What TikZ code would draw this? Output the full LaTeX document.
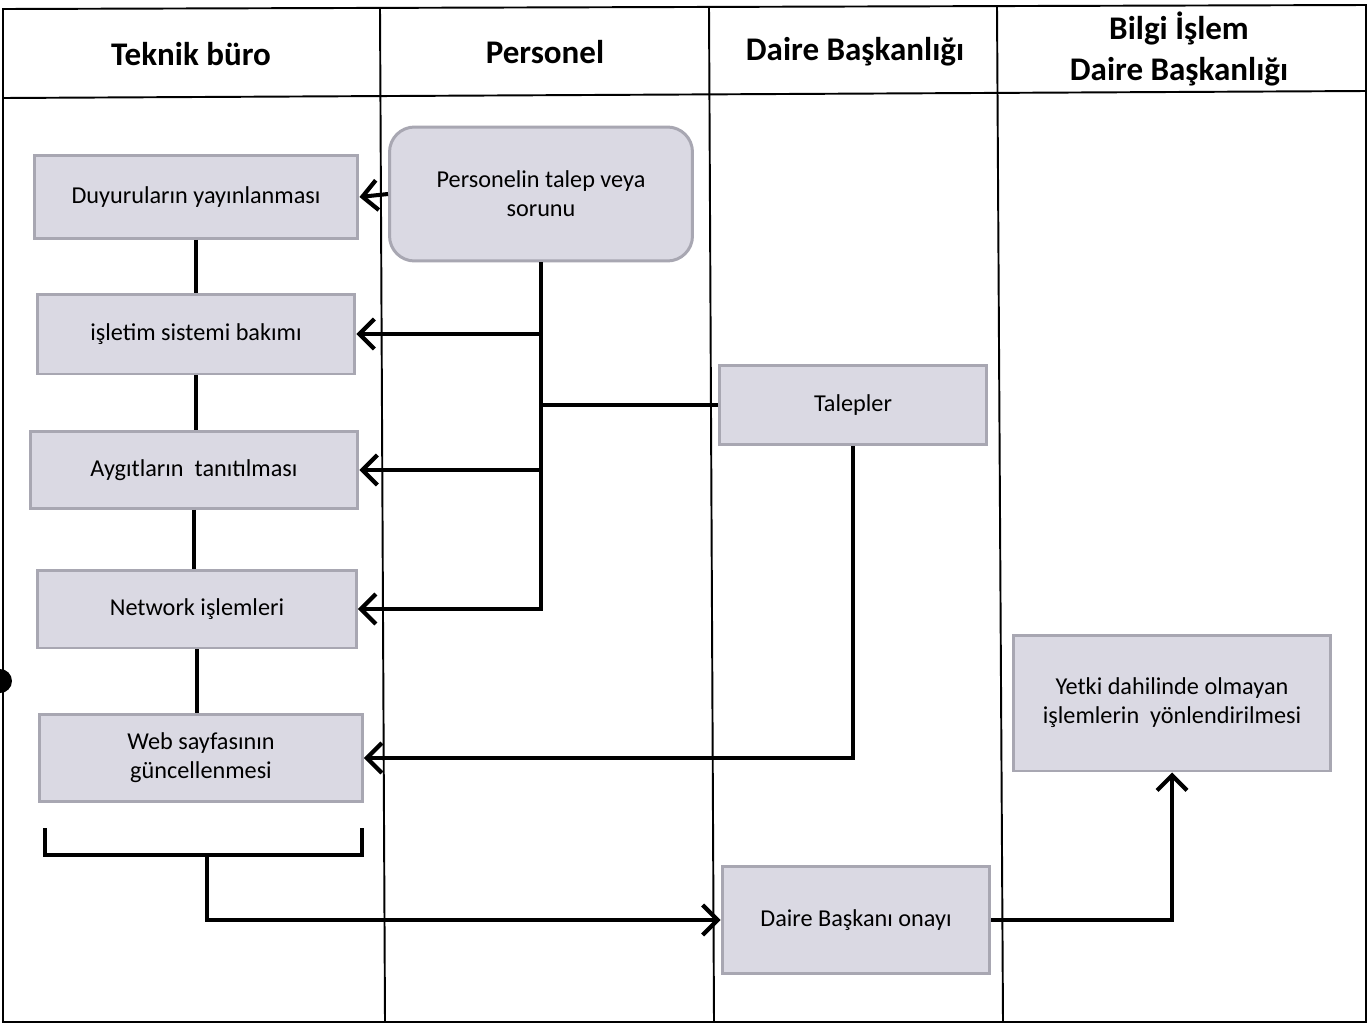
\documentclass[tikz,border=0pt]{standalone}
\usepackage{fontspec}
\setmainfont{Carlito}
\usetikzlibrary{arrows.meta}
\definecolor{boxfill}{HTML}{DAD9E3}
\definecolor{boxedge}{HTML}{A8A7B2}
\begin{document}
\begin{tikzpicture}[x=0.02cm,y=-0.02cm,
  grid/.style={line width=1.1pt, draw=black},
  head/.style={font=\fontsize{18.8}{23.8}\selectfont\bfseries, align=center},
  box/.style={draw=boxedge, fill=boxfill, line width=1.7pt, inner sep=0pt,
    align=center, font=\fontsize{13.8}{16.5}\selectfont},
  conn/.style={line width=2.3pt, draw=black},
  tip/.style={-{Straight Barb[length=8.5pt,width=17pt,line width=2.4pt]}}]
\useasboundingbox (0,0) rectangle (1369,1025);
\fill[white] (0,0) rectangle (1369,1025);

% swimlane table
\draw[grid] (3,9) -- (1366,5) -- (1366,1022) -- (3,1022) -- cycle;
\draw[grid] (3,98) -- (1366,91);
\draw[grid] (380,8) -- (385,1022);
\draw[grid] (709,7) -- (714,1022);
\draw[grid] (997,7) -- (1003,1022);

% lane titles
\node[head] (h1) at (191,54) {Teknik büro};
\node[head] (h2) at (545,52) {Personel};
\node[head] (h3) at (855,52) {Daire Başkanlığı};
\node[head] (h4) at (1179,49) {Bilgi İşlem\\Daire Başkanlığı};

% process boxes
\node[box, minimum width=6.48cm, minimum height=1.66cm] (b1) at (196,197) {Duyuruların yayınlanması};
\node[box, minimum width=6.36cm, minimum height=1.60cm] (b2) at (196,334) {işletim sistemi bakımı};
\node[box, minimum width=6.56cm, minimum height=1.54cm] (b3) at (194,470) {Aygıtların\ \ tanıtılması};
\node[box, minimum width=6.38cm, minimum height=1.56cm] (b4) at (197,609) {Network işlemleri};
\node[box, minimum width=6.46cm, minimum height=1.74cm] (b5) at (201,758) {Web sayfasının\\güncellenmesi};
\node[box, rounded corners=0.5cm, minimum width=6.06cm, minimum height=2.68cm] (per) at (541,194) {Personelin talep veya\\sorunu};
\node[box, minimum width=5.36cm, minimum height=1.58cm] (tal) at (853,405) {Talepler};
\node[box, minimum width=5.36cm, minimum height=2.14cm] (onay) at (856,920) {Daire Başkanı onayı};
\node[box, minimum width=6.34cm, minimum height=2.72cm] (yet) at (1172,703) {Yetki dahilinde olmayan\\işlemlerin\ \ yönlendirilmesi};

% links from the request
\draw[conn, tip] (per.west) -- (b1.east);
\draw[conn, tip] (per.south) |- (b4.east);
\draw[conn, tip] (per.south |- b2.east) -- (b2.east);
\draw[conn, tip] (per.south |- b3.east) -- (b3.east);
\draw[conn] (per.south |- tal.west) -- (tal.west);

% chain of technical office tasks
\draw[conn] (b1.south) -- (b1.south |- b2.north);
\draw[conn] (b2.south) -- (b2.south |- b3.north);
\draw[conn] (b3.south) -- (b3.south |- b4.north);
\draw[conn] (b4.south) -- (b4.south |- b5.north);

% requests to web page update
\draw[conn, tip] (tal.south) |- (b5.east);

% bracket under the task list
\coordinate (kl) at (45,828);
\coordinate (kr) at (362,828);
\coordinate (km) at (207,855);
\draw[conn] (kl) -- (kl |- km) -- (kr |- km) -- (kr);
\draw[conn, tip] (km) |- (onay.west);
\draw[conn, tip] (onay.east) -| (yet.south);

% punch hole on the left edge
\fill[black] (0,681) circle[radius=0.24cm];
\end{tikzpicture}
\end{document}
